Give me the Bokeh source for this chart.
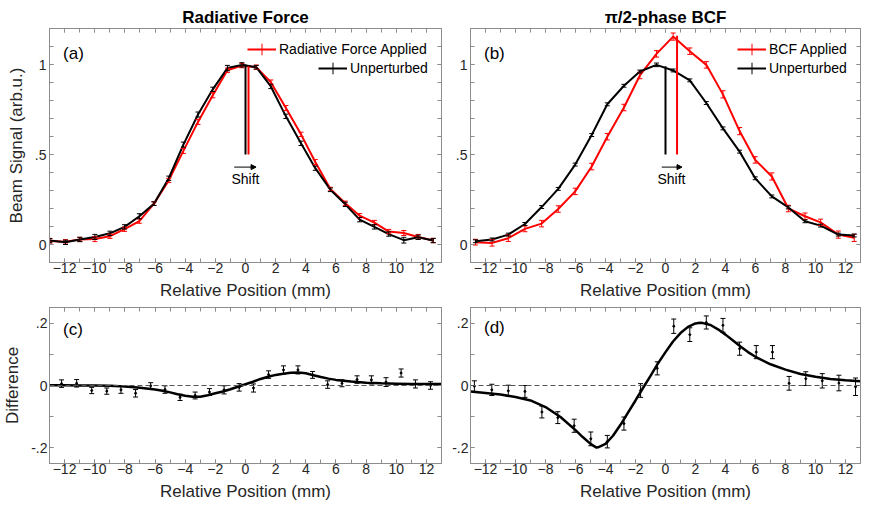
import numpy as np
from bokeh.plotting import figure
from bokeh.layouts import row, column
from bokeh.models import (ColumnDataSource, FixedTicker, LinearAxis, Range1d, Legend, LegendItem,
                          Span, Label, Arrow, NormalHead, Whisker, TeeHead)
from bokeh.embed import file_html
from bokeh.resources import INLINE

# ---------------- data ----------------
# Panel (a): Radiative Force
xa = [-12.98, -11.94, -10.99, -9.99, -8.99, -8.02, -7.04, -6.07, -5.09, -4.12, -3.15, -2.17, -1.2,
      -0.24, 0.71, 1.68, 2.68, 3.68, 4.63, 5.63, 6.62, 7.57, 8.55, 9.5, 10.5, 11.45, 12.45]
a_unpert = [0.022, 0.012, 0.028, 0.042, 0.062, 0.098, 0.157, 0.227, 0.368, 0.555, 0.722, 0.862, 0.98,
            0.998, 0.985, 0.878, 0.712, 0.562, 0.424, 0.304, 0.223, 0.138, 0.098, 0.058, 0.024, 0.04, 0.022]
a_unpert_err = [0.012, 0.012, 0.012, 0.014, 0.012, 0.012, 0.014, 0.01, 0.012, 0.014, 0.014, 0.012, 0.015,
                0.012, 0.01, 0.012, 0.012, 0.012, 0.012, 0.01, 0.012, 0.012, 0.012, 0.012, 0.016, 0.012, 0.012]
a_force = [0.02, 0.015, 0.028, 0.03, 0.046, 0.085, 0.13, 0.227, 0.356, 0.52, 0.681, 0.829, 0.968,
           0.994, 0.985, 0.902, 0.758, 0.612, 0.458, 0.308, 0.229, 0.16, 0.122, 0.072, 0.064, 0.042, 0.022]
a_force_err = [0.012, 0.012, 0.012, 0.014, 0.012, 0.012, 0.012, 0.01, 0.012, 0.014, 0.014, 0.014, 0.012,
               0.012, 0.012, 0.012, 0.014, 0.012, 0.014, 0.01, 0.012, 0.012, 0.012, 0.012, 0.014, 0.014, 0.012]

# Panel (b): pi/2-phase BCF
xb = [-12.67, -11.56, -10.48, -9.37, -8.26, -7.15, -6.02, -4.92, -3.88, -2.77, -1.71, -0.6,
      0.51, 1.62, 2.72, 3.83, 4.94, 5.98, 7.09, 8.19, 9.3, 10.34, 11.52, 12.58]
b_unpert = [0.018, 0.028, 0.055, 0.114, 0.208, 0.309, 0.444, 0.608, 0.779, 0.882, 0.961, 0.998,
            0.967, 0.912, 0.786, 0.645, 0.516, 0.368, 0.267, 0.206, 0.129, 0.105, 0.055, 0.05]
b_unpert_err = [0.008, 0.008, 0.008, 0.008, 0.008, 0.008, 0.008, 0.008, 0.008, 0.008, 0.008, 0.01,
                0.008, 0.008, 0.008, 0.008, 0.008, 0.008, 0.008, 0.008, 0.008, 0.008, 0.008, 0.008]
b_bcf = [0.013, 0.009, 0.035, 0.087, 0.116, 0.197, 0.295, 0.433, 0.599, 0.761, 0.939, 1.059,
         1.155, 1.074, 0.998, 0.834, 0.63, 0.47, 0.378, 0.2, 0.157, 0.123, 0.055, 0.037]
b_bcf_err = [0.016, 0.018, 0.018, 0.016, 0.018, 0.018, 0.018, 0.018, 0.018, 0.018, 0.018, 0.018,
             0.02, 0.018, 0.018, 0.02, 0.02, 0.018, 0.02, 0.018, 0.018, 0.018, 0.02, 0.02]

# Centroid markers (x position, top value) for each panel
cent_a_x = [0.0, 0.2]
cent_a_top = [1.0, 0.99]
cent_b_x = [0.0, 0.77]
cent_b_top = [0.99, 1.16]
cent_bottom = 0.5

# Panel (c): difference, radiative force
xc = [-12.2, -11.2, -10.2, -9.2, -8.26, -7.29, -6.29, -5.34, -4.34, -3.34, -2.39, -1.42, -0.42,
      0.53, 1.53, 2.52, 3.48, 4.45, 5.45, 6.4, 7.4, 8.35, 9.32, 10.32, 11.27, 12.27]
c_diff = [0.006, 0.007, -0.016, -0.018, -0.014, -0.025, -0.001, -0.013, -0.038, -0.032, -0.021, -0.014,
          -0.006, -0.008, 0.035, 0.05, 0.05, 0.034, 0.003, 0.007, 0.019, 0.018, 0.011, 0.04, 0.005, 0.0]
c_err = [0.012, 0.012, 0.01, 0.01, 0.011, 0.012, 0.01, 0.012, 0.01, 0.011, 0.011, 0.013, 0.012,
         0.013, 0.012, 0.013, 0.013, 0.011, 0.012, 0.011, 0.012, 0.013, 0.014, 0.013, 0.013, 0.012]
fitc_x = [-13, -12, -11, -10, -9, -8, -7, -6, -5.5, -5, -4.5, -4, -3.5, -3, -2.5, -2, -1.5, -1, -0.5,
          0, 0.5, 1, 1.5, 2, 2.5, 3, 3.5, 4, 4.5, 5, 5.5, 6, 7, 8, 9, 10, 11, 12, 13]
fitc_y = [0.001, 0.001, 0.0, 0.0, -0.001, -0.003, -0.007, -0.013, -0.017, -0.022, -0.028, -0.033, -0.036,
          -0.036, -0.031, -0.025, -0.019, -0.012, -0.004, 0.004, 0.012, 0.021, 0.028, 0.034, 0.038,
          0.041, 0.042, 0.039, 0.033, 0.027, 0.022, 0.018, 0.013, 0.009, 0.007, 0.006, 0.005, 0.005, 0.005]

# Panel (d): difference, BCF
xd = [-12.74, -11.58, -10.48, -9.37, -8.24, -7.18, -6.09, -4.98, -3.88, -2.77, -1.66, -0.55,
      0.55, 1.62, 2.72, 3.83, 4.94, 6.05, 7.13, 8.24, 9.35, 10.45, 11.56, 12.67]
d_diff = [-0.002, -0.014, -0.017, -0.019, -0.085, -0.103, -0.129, -0.171, -0.18, -0.122, -0.016, 0.055,
          0.19, 0.163, 0.202, 0.193, 0.118, 0.107, 0.107, 0.007, 0.022, 0.015, 0.008, -0.004]
d_err = [0.017, 0.018, 0.018, 0.019, 0.019, 0.019, 0.021, 0.022, 0.02, 0.021, 0.022, 0.021,
         0.023, 0.022, 0.021, 0.022, 0.021, 0.021, 0.021, 0.022, 0.022, 0.023, 0.025, 0.028]
fitd_x = [-13, -12, -11, -10, -9, -8, -7, -6, -5.5, -5, -4.6, -4.5, -4, -3.5, -3, -2.5, -2, -1.5, -1,
          -0.5, 0, 0.5, 1, 1.5, 2, 2.3, 2.5, 3, 3.5, 4, 4.5, 5, 5.5, 6, 7, 8, 9, 10, 11, 12, 13]
fitd_y = [-0.019, -0.024, -0.029, -0.037, -0.048, -0.069, -0.101, -0.143, -0.166, -0.187, -0.199, -0.198,
          -0.187, -0.161, -0.126, -0.087, -0.048, -0.008, 0.031, 0.071, 0.107, 0.141, 0.168, 0.188,
          0.199, 0.201, 0.2, 0.194, 0.18, 0.163, 0.144, 0.125, 0.107, 0.092, 0.068, 0.051, 0.037,
          0.028, 0.021, 0.017, 0.014]

# Tick positions / labels
x_major = [-12, -10, -8, -6, -4, -2, 0, 2, 4, 6, 8, 10, 12]
x_minor = list(range(-13, 14))
top_major = [0, 0.5, 1]
top_labels = {0: "0", 0.5: ".5", 1: "1"}
top_minor = [-0.1, 0.0, 0.1, 0.2, 0.3, 0.4, 0.5, 0.6, 0.7, 0.8, 0.9, 1.0, 1.1, 1.2]
bot_major = [-0.2, 0, 0.2]
bot_labels = {-0.2: "-.2", 0: "0", 0.2: ".2"}
bot_minor = [-0.2, -0.1, 0.0, 0.1, 0.2]

# ---------------- style ----------------
FONT = "Liberation Sans"
FRAME = "#8c8c8c"
TXT = "#262626"
RED = "#ff0000"
BLK = "#000000"


def style_axis(ax, labels=True):
    ax.axis_line_color = FRAME
    ax.major_tick_line_color = FRAME
    ax.minor_tick_line_color = FRAME
    ax.major_tick_in = 4
    ax.major_tick_out = 0
    ax.minor_tick_in = 4
    ax.minor_tick_out = 0
    ax.major_label_text_font = FONT
    ax.major_label_text_color = TXT
    ax.axis_label_text_font = FONT
    ax.axis_label_text_font_size = "17px"
    ax.axis_label_text_font_style = "normal"
    ax.axis_label_text_color = TXT
    if labels:
        ax.major_label_text_font_size = "14px"
        ax.major_label_standoff = 0
        ax.axis_label_standoff = 5
    else:
        ax.major_label_text_font_size = "0px"
        ax.major_label_standoff = 0
        ax.major_label_text_alpha = 0


def make_fig(width, height, yr, ml, mr, mt, mb, ymaj, ymin, ylab, title=None, ylabel=None,
             ystand=3):
    p = figure(width=width, height=height, x_range=Range1d(-13, 13), y_range=Range1d(*yr),
               output_backend="svg", toolbar_location=None, title=title,
               min_border_left=ml, min_border_right=mr, min_border_top=mt, min_border_bottom=mb,
               x_axis_type=None, y_axis_type=None)
    p.xgrid.visible = False
    p.ygrid.visible = False
    p.outline_line_color = FRAME
    p.background_fill_color = "white"
    p.border_fill_color = "white"
    if title is not None:
        p.title.align = "center"
        p.title.text_font = FONT
        p.title.text_font_size = "17px"
        p.title.text_font_style = "bold"
        p.title.text_color = "black"
        p.title.standoff = 4
    xt = FixedTicker(ticks=x_major, minor_ticks=x_minor)
    yt = FixedTicker(ticks=ymaj, minor_ticks=ymin)
    xb_ax = LinearAxis(ticker=xt, axis_label="Relative Position (mm)")
    style_axis(xb_ax)
    p.add_layout(xb_ax, "below")
    yl_ax = LinearAxis(ticker=yt, axis_label=ylabel, major_label_overrides=ylab)
    style_axis(yl_ax)
    yl_ax.major_label_standoff = ystand
    yl_ax.axis_label_standoff = 6
    p.add_layout(yl_ax, "left")
    xt_ax = LinearAxis(ticker=FixedTicker(ticks=x_major, minor_ticks=x_minor))
    style_axis(xt_ax, labels=False)
    p.add_layout(xt_ax, "above")
    yr_ax = LinearAxis(ticker=FixedTicker(ticks=ymaj, minor_ticks=ymin))
    style_axis(yr_ax, labels=False)
    p.add_layout(yr_ax, "right")
    return p


def errorbars(p, x, y, e, color, lw=1, cap=5):
    y = np.array(y)
    e = np.array(e)
    src = ColumnDataSource(dict(x=x, upper=y + e, lower=y - e))
    w = Whisker(source=src, base="x", upper="upper", lower="lower", dimension="height",
                line_color=color, line_width=lw, level="glyph",
                upper_head=TeeHead(size=cap, line_color=color, line_width=lw),
                lower_head=TeeHead(size=cap, line_color=color, line_width=lw))
    p.add_layout(w)


def series(p, x, y, e, color):
    src = ColumnDataSource(dict(x=x, y=y))
    ln = p.line("x", "y", source=src, line_color=color, line_width=2)
    errorbars(p, x, y, e, color)
    mk = p.scatter("x", "y", source=src, marker="cross", size=0, line_color=color, line_width=1)
    return ln, mk


def legend(p, items, loc):
    lg = Legend(items=items, location=loc, border_line_color=None, background_fill_alpha=0,
                padding=0, margin=0, spacing=0, label_text_font=FONT, label_text_font_size="14px",
                label_text_color="black", glyph_width=29, glyph_height=30, label_height=30,
                label_standoff=3)
    p.add_layout(lg)


def panel_label(p, txt, x, y):
    p.add_layout(Label(x=x, y=y, text=txt, text_font=FONT, text_font_size="17px",
                       text_color="black", text_baseline="middle", text_align="left"))


def shift_marker(p, cx, ctop, x0, x1, tx):
    src = ColumnDataSource(dict(x=cx, y0=[cent_bottom] * len(cx), y1=ctop, c=[BLK, RED]))
    p.segment(x0="x", y0="y0", x1="x", y1="y1", color="c", line_width=2, source=src)
    p.add_layout(Arrow(x_start=x0, y_start=0.43, x_end=x1, y_end=0.43, line_width=1,
                       line_color="black",
                       end=NormalHead(size=5, fill_color="black", line_color="black")))
    p.add_layout(Label(x=tx, y=0.365, text="Shift", text_font=FONT, text_font_size="14px",
                       text_color="black", text_align="center", text_baseline="middle"))


# ---------------- panel (a) ----------------
pa = make_fig(445, 303, (-0.1, 1.2), 49, 4, 28, 41, top_major, top_minor, top_labels,
              title="Radiative Force", ylabel="Beam Signal (arb.u.)")
ra_ln, ra_mk = series(pa, xa, a_force, a_force_err, RED)
ka_ln, ka_mk = series(pa, xa, a_unpert, a_unpert_err, BLK)
shift_marker(pa, cent_a_x, cent_a_top, -0.75, 0.7, 0.0)
panel_label(pa, "(a)", -12.1, 1.06)
legend(pa, [LegendItem(label="Radiative Force Applied", renderers=[ra_ln, ra_mk])], (198, 198))
legend(pa, [LegendItem(label="Unperturbed", renderers=[ka_ln, ka_mk])], (269, 179))

# ---------------- panel (b) ----------------
pb = make_fig(426, 303, (-0.1, 1.2), 25, 11, 28, 41, top_major, top_minor, top_labels,
              title="π/2-phase BCF")
rb_ln, rb_mk = series(pb, xb, b_bcf, b_bcf_err, RED)
kb_ln, kb_mk = series(pb, xb, b_unpert, b_unpert_err, BLK)
shift_marker(pb, cent_b_x, cent_b_top, -0.25, 1.1, 0.4)
panel_label(pb, "(b)", -12.1, 1.06)
legend(pb, [LegendItem(label="BCF Applied", renderers=[rb_ln, rb_mk])], (267, 198))
legend(pb, [LegendItem(label="Unperturbed", renderers=[kb_ln, kb_mk])], (267, 179))

# ---------------- panel (c) ----------------
pc = make_fig(445, 206, (-0.25, 0.25), 49, 4, 4, 46, bot_major, bot_minor, bot_labels,
              ylabel="Difference", ystand=2)
pc.add_layout(Span(location=0, dimension="width", line_color="#555555", line_width=1,
                   line_dash="5 3"))
pc.line(fitc_x, fitc_y, line_color="black", line_width=2.5)
errorbars(pc, xc, c_diff, c_err, BLK, cap=5)
pc.scatter(xc, c_diff, marker="circle", size=2, color="black")
panel_label(pc, "(c)", -12.1, 0.178)

# ---------------- panel (d) ----------------
pd_ = make_fig(426, 206, (-0.25, 0.25), 25, 11, 4, 46, bot_major, bot_minor, bot_labels,
               ystand=2)
pd_.add_layout(Span(location=0, dimension="width", line_color="#555555", line_width=1,
                    line_dash="5 3"))
pd_.line(fitd_x, fitd_y, line_color="black", line_width=2.5)
errorbars(pd_, xd, d_diff, d_err, BLK, cap=5)
pd_.scatter(xd, d_diff, marker="circle", size=2, color="black")
panel_label(pd_, "(d)", -12.1, 0.185)

layout = row(column(pa, pc), column(pb, pd_))
open("out.html", "w").write(file_html(layout, INLINE))
